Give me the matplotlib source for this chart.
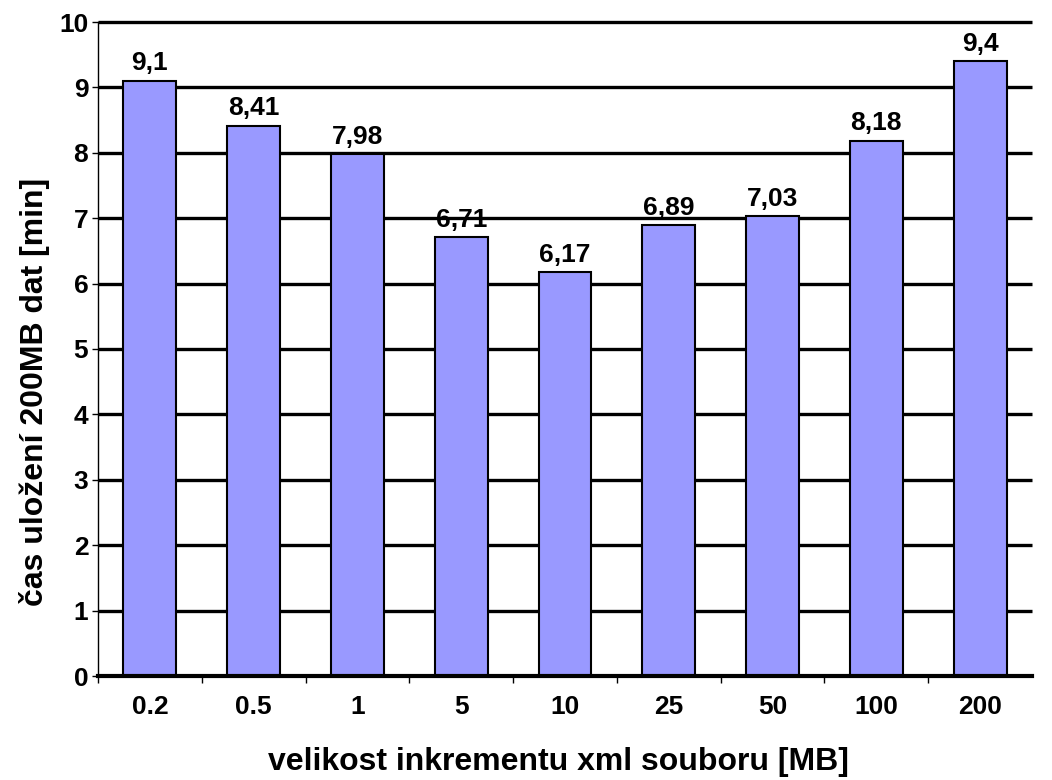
import matplotlib
matplotlib.use("Agg")
import matplotlib.pyplot as plt
import numpy as np

categories = ["0.2", "0.5", "1", "5", "10", "25", "50", "100", "200"]
values = [9.1, 8.41, 7.98, 6.71, 6.17, 6.89, 7.03, 8.18, 9.4]
value_labels = ["9,1", "8,41", "7,98", "6,71", "6,17", "6,89", "7,03", "8,18", "9,4"]
yticks = list(range(0, 11))

plt.rcParams['font.family'] = ['Liberation Sans', 'DejaVu Sans']
plt.rcParams['font.weight'] = 'bold'

W, H = 1052, 780
fig = plt.figure(figsize=(W / 100, H / 100), dpi=100)
ax = fig.add_axes([98 / W, 1 - 676 / H, (1032 - 98) / W, (676 - 22) / H])

x = np.arange(len(categories))
ax.set_xlim(-0.5, len(categories) - 0.5)
ax.set_ylim(0, 10)

for yv in yticks[1:]:
    ax.axhline(yv, color='black', lw=2.4, zorder=1, solid_capstyle='butt', clip_on=False)

ax.bar(x, values, width=0.51, color='#9999FF', edgecolor='black', linewidth=1.5, zorder=2)
for xi, v, lab in zip(x, values, value_labels):
    ax.annotate(lab, (xi, v), xytext=(0, 4), textcoords='offset points',
                ha='center', va='bottom', fontsize=19, fontweight='bold', zorder=3)

ax.spines['top'].set_visible(False)
ax.spines['right'].set_visible(False)
ax.spines['left'].set_linewidth(1.0)
ax.spines['bottom'].set_linewidth(3)
ax.spines['bottom'].set_zorder(4)

ax.set_yticks(yticks)
ax.set_yticklabels([str(t) for t in yticks], fontsize=19, fontweight='bold')
ax.tick_params(axis='y', direction='out', length=4, width=1.0, pad=3)

ax.set_xticks(x)
ax.set_xticklabels(categories, fontsize=19, fontweight='bold')
ax.tick_params(axis='x', which='major', length=0, pad=14)
ax.set_xticks(np.arange(0.5, len(categories) - 1, 1.0).tolist() + [-0.5], minor=True)
ax.tick_params(axis='x', which='minor', direction='out', length=5, width=1.0)

fig.text(558 / W, 1 - 762 / H, "velikost inkrementu xml souboru [MB]",
         ha='center', va='center', fontsize=23, fontweight='bold')
fig.text(35 / W, 1 - 392 / H, "čas uložení 200MB dat [min]", rotation=90,
         ha='center', va='center', fontsize=23, fontweight='bold')

fig.savefig("out.png", dpi=100)
